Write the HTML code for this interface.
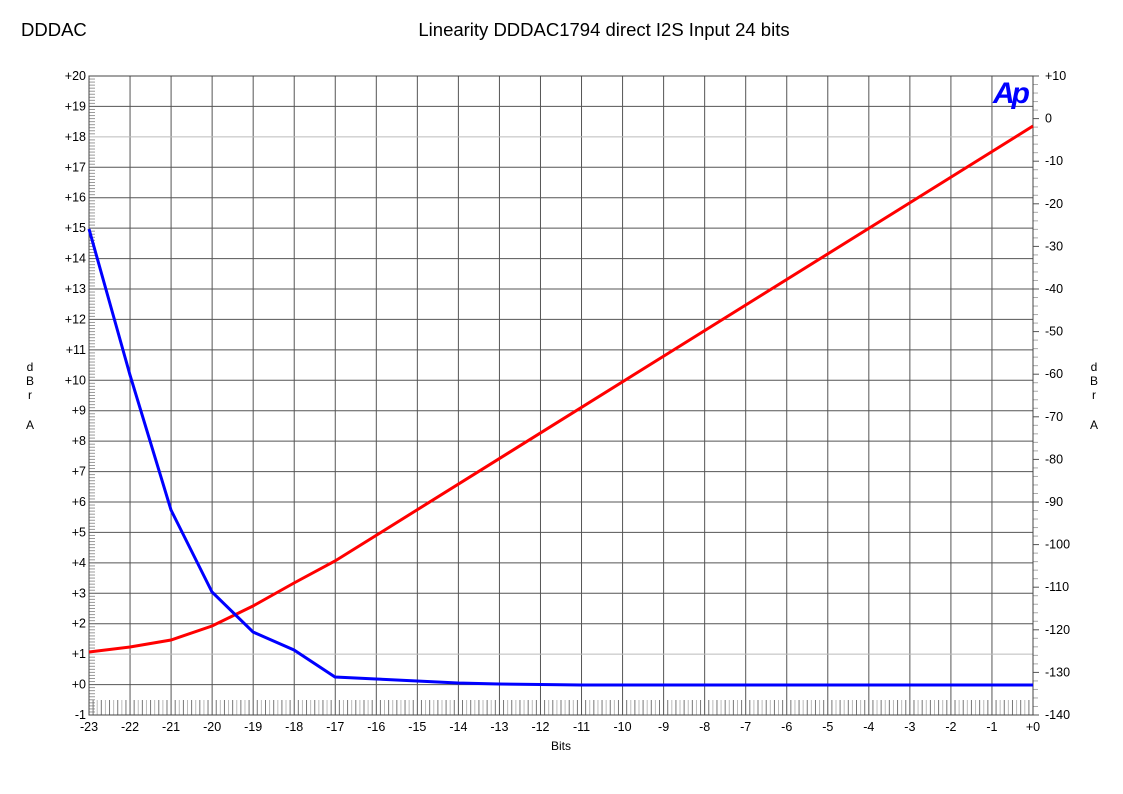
<!DOCTYPE html>
<html><head><meta charset="utf-8"><style>
html,body{margin:0;padding:0;background:#fff;}
svg{display:block;font-family:"Liberation Sans",Arial,sans-serif;}
</style></head><body>
<svg id="s" width="1123" height="794" viewBox="0 0 1123 794" xmlns="http://www.w3.org/2000/svg">
<rect width="1123" height="794" fill="#fff"/>
<text x="21" y="36" font-size="18.5">DDDAC</text>
<text x="604" y="36" font-size="18.5" text-anchor="middle">Linearity DDDAC1794 direct I2S Input 24 bits</text>
<g id="grid"></g>
<text x="1010" y="103" font-size="30" font-weight="bold" font-style="italic" fill="#0000ff" text-anchor="middle" letter-spacing="-3">Ap</text>
<g font-size="12" text-anchor="middle">
<text x="30" y="371">d</text><text x="30" y="385">B</text><text x="30" y="399">r</text><text x="30" y="429">A</text>
<text x="1094" y="371">d</text><text x="1094" y="385">B</text><text x="1094" y="399">r</text><text x="1094" y="429">A</text>
<text x="561" y="750">Bits</text>
</g>
<polyline fill="none" stroke="#ff0000" stroke-width="3" points="89,652 130,647 171,640 212,626 253,606 294,583 335,561 1033,126"/>
<polyline fill="none" stroke="#0000ff" stroke-width="3" points="89,229 130,375 171,510 212,592 253,632 294,650 335,677 376,679 417,681 458,683 499,684 540,684.5 581,685 1033,685"/>
</svg>
<script>
var g=document.getElementById('grid'),h='';
var L=89,R=1033,T=76,B=715,dx=(R-L)/23,dy=(B-T)/21,rdy=(B-T)/15;
for(var i=0;i<=23;i++){var x=L+i*dx;h+='<line x1="'+x+'" y1="'+T+'" x2="'+x+'" y2="'+B+'" stroke="#555" stroke-width="1"/>';
var lab=i==23?'+0':String(i-23);h+='<text x="'+x+'" y="731" font-size="12.5" text-anchor="middle">'+lab+'</text>';}
for(var j=0;j<=21;j++){var y=B-j*dy,v=j-1;var c=(v==18||v==1)?'#bbb':'#555';
h+='<line x1="'+L+'" y1="'+y+'" x2="'+R+'" y2="'+y+'" stroke="'+c+'" stroke-width="1"/>';
h+='<text x="86" y="'+(y+4)+'" font-size="12.5" text-anchor="end">'+(v<0?v:'+'+v)+'</text>';
for(var k=1;k<10&&j<21;k++){var yy=y-k*dy/10;h+='<line x1="'+L+'" y1="'+yy+'" x2="'+(L+6)+'" y2="'+yy+'" stroke="#999"/>';}}
for(var j=0;j<=15;j++){var y=B-j*rdy,v=-140+j*10;
h+='<line x1="'+R+'" y1="'+y+'" x2="'+(R+6)+'" y2="'+y+'" stroke="#555"/>';
h+='<text x="1045" y="'+(y+4)+'" font-size="12.5">'+(v>0?'+'+v:v)+'</text>';
for(var k=1;k<5&&j<15;k++){var yy=y-k*rdy/5;h+='<line x1="'+R+'" y1="'+yy+'" x2="'+(R+5)+'" y2="'+yy+'" stroke="#aaa"/>';}}
for(var i=0;i<23;i++)for(var k=1;k<10;k++){var x=L+i*dx+k*dx/10;h+='<line x1="'+x+'" y1="700" x2="'+x+'" y2="'+B+'" stroke="'+(k%2?'#777':'#bbb')+'"/>';}
h+='<rect x="'+L+'" y="'+T+'" width="'+(R-L)+'" height="'+(B-T)+'" fill="none" stroke="#444"/>';
g.innerHTML=h;
</script>
</body></html>
